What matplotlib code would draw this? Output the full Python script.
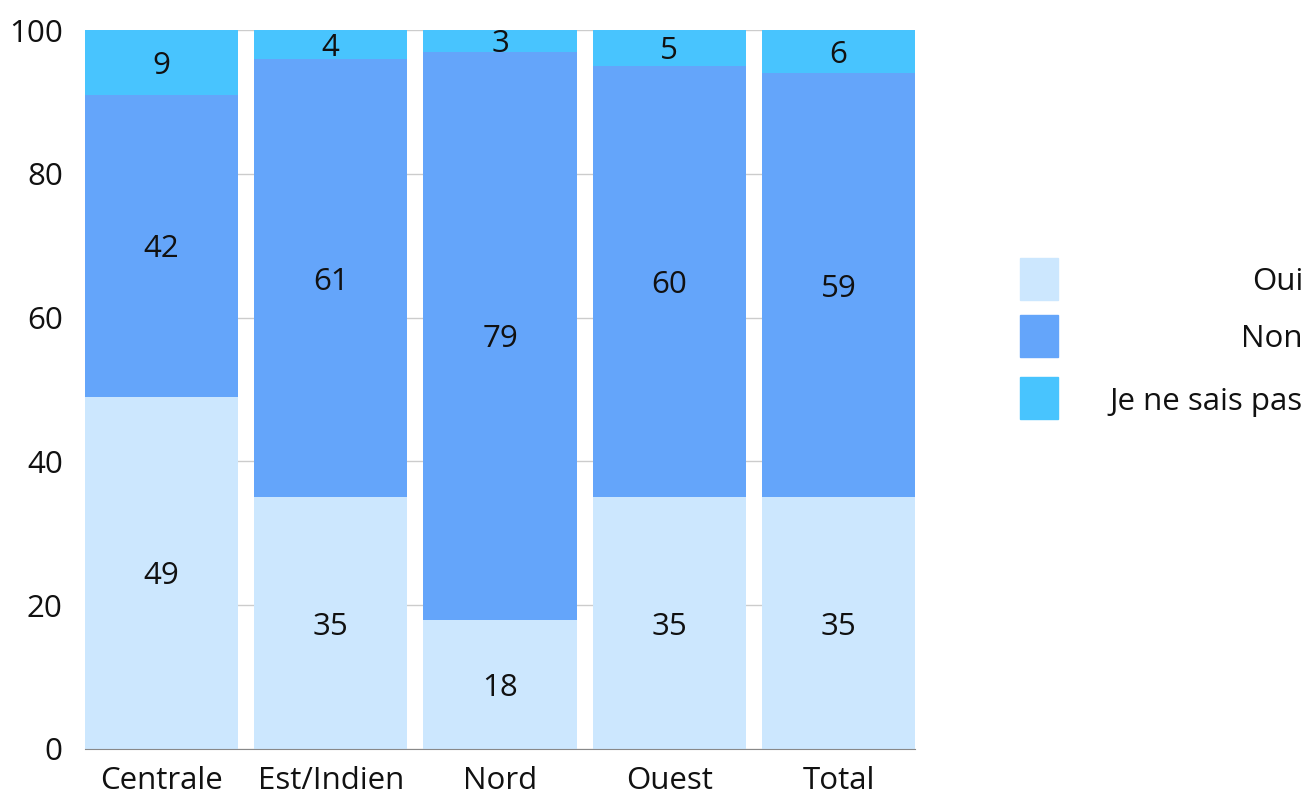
import matplotlib.pyplot as plt
from matplotlib.patches import Rectangle

plt.rcParams['font.family'] = ['Open Sans', 'DejaVu Sans']

# data
regions = ["Centrale", "Est/Indien", "Nord", "Ouest", "Total"]
oui = [49, 35, 18, 35, 35]
non = [42, 61, 79, 60, 59]
nsp = [9, 4, 3, 5, 6]
series_names = ["Oui", "Non", "Je ne sais pas"]
colors = ["#cce7fe", "#64a5fa", "#48c4fe"]

fs = 22.5
fig = plt.figure(figsize=(13.08, 7.93), dpi=100)
ax = fig.add_axes([85/1308, 1 - 749/793, 830/1308, 719/793])

x = range(len(regions))
w = 0.904
bottoms = [0] * len(regions)
for vals, col in zip([oui, non, nsp], colors):
    bars = ax.bar(x, vals, w, bottom=bottoms, color=col, zorder=2)
    for b, v, bot in zip(bars, vals, bottoms):
        ax.text(b.get_x() + b.get_width() / 2, bot + v / 2, str(v),
                ha="center", va="center_baseline", fontsize=fs, color="#111111", zorder=3)
    bottoms = [a + b for a, b in zip(bottoms, vals)]

ax.set_xlim(-w / 2, len(regions) - 1 + w / 2)
ax.set_ylim(0, 100)
ax.set_yticks([0, 20, 40, 60, 80, 100])
ax.set_xticks(list(x))
ax.set_xticklabels(regions)
ax.tick_params(length=0, labelsize=fs, colors="#111111")
ax.tick_params(axis="y", pad=16)
ax.tick_params(axis="x", pad=12)
ax.grid(axis="y", color="#cccccc", linewidth=1, zorder=0)
for s in ["left", "right", "top"]:
    ax.spines[s].set_visible(False)
ax.spines["bottom"].set_color("#888888")
ax.spines["bottom"].set_zorder(4)

# legend drawn by hand: squares on the left, labels right-aligned
leg_y = [279, 336, 398]
for name, col, yc in zip(series_names, colors, leg_y):
    fig.add_artist(Rectangle((1020/1308, 1 - (yc + 21)/793), 38/1308, 42/793,
                             color=col, transform=fig.transFigure))
    fig.text(1303/1308, 1 - yc/793, name, ha="right", va="center_baseline",
             fontsize=fs, color="#111111")

plt.savefig("out.png")
